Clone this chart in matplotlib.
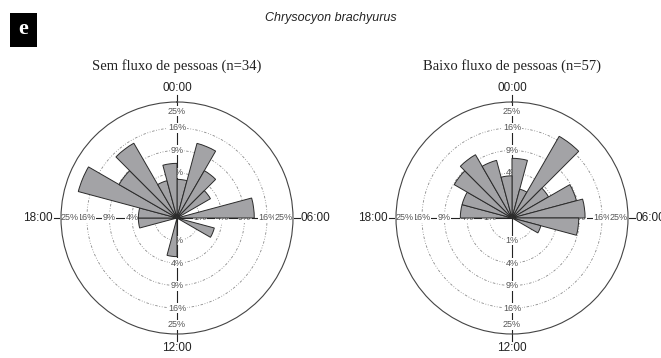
import numpy as np
import matplotlib.pyplot as plt
from matplotlib.patches import Rectangle

# hourly records (24 bins of 15 degrees, starting at 00:00)
hours = np.arange(24)
sem_fluxo = [1, 4, 2, 1, 0, 4, 0, 1, 0, 0, 0, 0, 1, 0, 0, 0, 0, 1, 1, 7, 3, 5, 1, 2]
baixo_fluxo = [4, 1, 10, 2, 5, 6, 5, 1, 0, 0, 0, 0, 0, 0, 0, 0, 0, 0, 3, 3, 5, 6, 4, 2]
panel_titles = ["Sem fluxo de pessoas (n=34)", "Baixo fluxo de pessoas (n=57)"]
ring_pcts = [1, 4, 9, 16, 25]
hour_labels = ["00:00", "06:00", "12:00", "18:00"]

RMAX = 5.15          # radial axis in sqrt(%) units
W, H = 661, 358
CENTERS = [(177, 218), (512, 218)]
RAD_PX = 116

fig = plt.figure(figsize=(W / 100, H / 100), dpi=100)
fig.patch.set_facecolor("white")

sans = ["Liberation Sans", "DejaVu Sans"]
serif = ["Liberation Serif", "DejaVu Serif"]

# panel letter and species name
fig.patches.append(Rectangle((10 / W, 1 - 47 / H), 27 / W, 34 / H,
                             transform=fig.transFigure, facecolor="black",
                             edgecolor="none"))
fig.text(23.5 / W, 1 - 29 / H, "e", color="white", fontsize=16,
         fontweight="bold", family=serif, ha="center", va="center")
fig.text(331 / W, 1 - 18 / H, "Chrysocyon brachyurus", fontsize=9,
         style="italic", family=sans, ha="center", va="center", color="#222222")

theta = np.deg2rad(hours * 15)
width = np.deg2rad(15)
circle = np.linspace(0, 2 * np.pi, 361)

for counts, title, (cx, cy) in zip([sem_fluxo, baixo_fluxo], panel_titles, CENTERS):
    counts = np.array(counts)
    pct = counts / counts.sum() * 100

    ax = fig.add_axes([(cx - RAD_PX) / W, (H - cy - RAD_PX) / H,
                       2 * RAD_PX / W, 2 * RAD_PX / H], projection="polar")
    ax.set_theta_zero_location("N")
    ax.set_theta_direction(-1)
    ax.set_ylim(0, RMAX)
    ax.grid(False)
    ax.set_xticks([])
    ax.set_yticks([])
    ax.spines["polar"].set_color("#444444")
    ax.spines["polar"].set_linewidth(0.8)

    # dotted rings
    for p in ring_pcts[:-1]:
        ax.plot(circle, np.full_like(circle, np.sqrt(p)), color="#8a8a8a",
                lw=0.6, ls=(0, (3, 2, 1, 2, 1, 2)), zorder=0.5)

    # cross lines reaching out to the hour labels
    for ang in [0, 90, 180, 270]:
        a = np.deg2rad(ang)
        ax.plot([a, a], [0, 5.45], color="#222222", lw=0.8, clip_on=False, zorder=1)

    # percentage labels along the four axes
    for ang in [0, 90, 180, 270]:
        a = np.deg2rad(ang)
        for p in ring_pcts:
            r = 4.75 if p == 25 else np.sqrt(p)
            ax.text(a, r, f"{p}%", fontsize=6.5, family=sans, color="#555555",
                    ha="center", va="center", zorder=2,
                    bbox=dict(facecolor="white", edgecolor="none", pad=0.3))

    ax.bar(theta, np.sqrt(pct), width=width, align="edge", color="#a3a3a6",
           edgecolor="#2a2a2a", linewidth=0.7, zorder=3)

    # hour labels
    ax.text(0, 5.5, hour_labels[0], fontsize=8.5, family=sans, ha="center",
            va="bottom", color="#222222")
    ax.text(np.pi, 5.5, hour_labels[2], fontsize=8.5, family=sans, ha="center",
            va="top", color="#222222")
    ax.text(np.pi / 2, 5.5, hour_labels[1], fontsize=8.5, family=sans, ha="left",
            va="center", color="#222222")
    ax.text(3 * np.pi / 2, 5.5, hour_labels[3], fontsize=8.5, family=sans,
            ha="right", va="center", color="#222222")

    fig.text(cx / W, 1 - 66 / H, title, fontsize=10.5, family=serif,
             ha="center", va="center", color="#222222")

fig.savefig("out.png", dpi=100)
